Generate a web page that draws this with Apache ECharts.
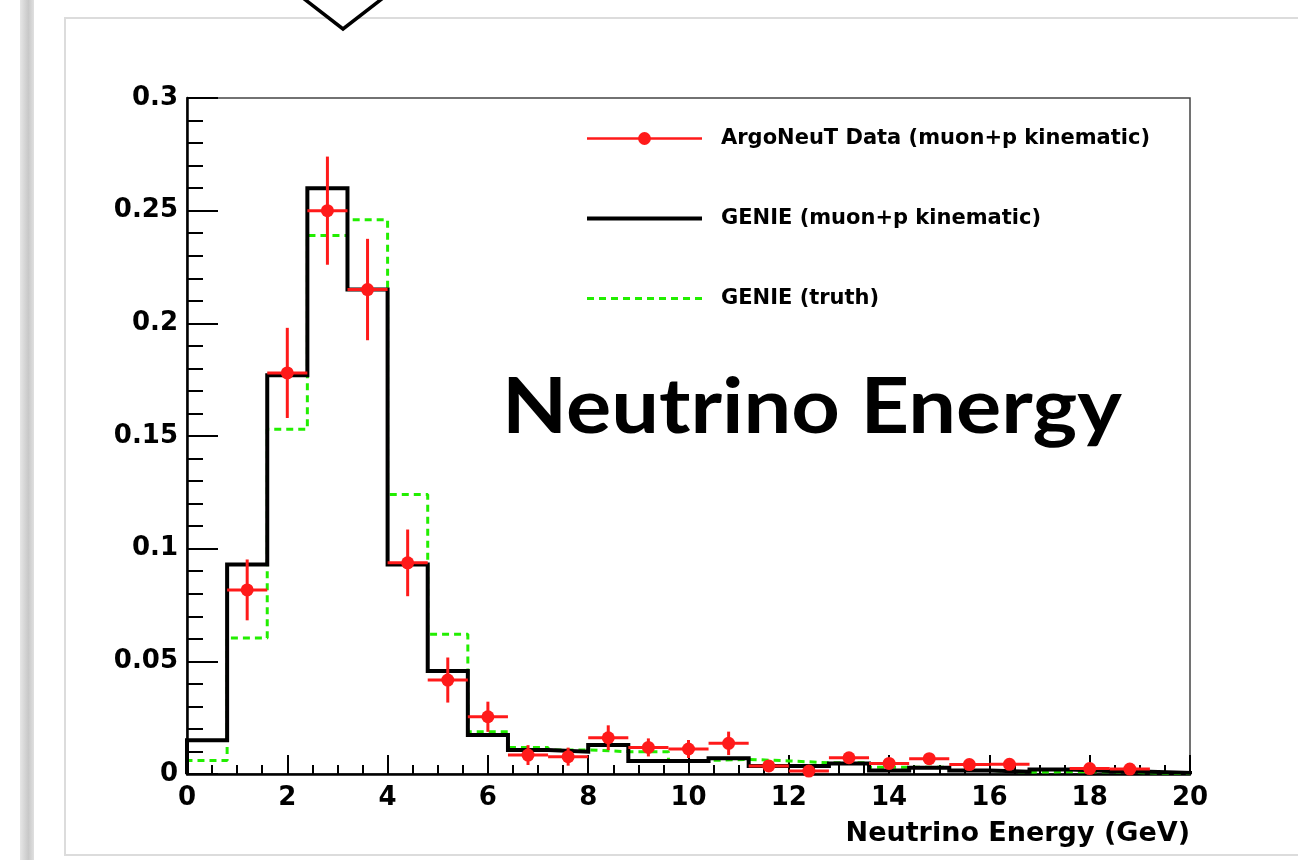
<!DOCTYPE html>
<html>
<head>
<meta charset="utf-8">
<script src="https://cdn.jsdelivr.net/npm/echarts@6/dist/echarts.min.js"></script>
<style>
html,body{margin:0;padding:0;background:#fff;}
#chart{width:1298px;height:860px;}
</style>
</head>
<body>
<div id="chart"></div>
<script>
// ---- data ----
const binCenters = [0.4,1.2,2.0,2.8,3.6,4.4,5.2,6.0,6.8,7.6,8.4,9.2,10.0,10.8,11.6,12.4,13.2,14.0,14.8,15.6,16.4,17.2,18.0,18.8,19.6];
const binHalfWidth = 0.4;
const genieKinematic = [0.015,0.093,0.177,0.260,0.215,0.093,0.0457,0.0173,0.0107,0.0099,0.0129,0.0058,0.0058,0.0070,0.0036,0.0036,0.0047,0.0015,0.0028,0.0015,0.0010,0.0020,0.0013,0.0010,0.0005];
const genieTruth = [0.006,0.0604,0.153,0.239,0.246,0.124,0.062,0.0188,0.0118,0.0107,0.0099,0.0099,0.0060,0.0065,0.0058,0.0050,0.0050,0.0030,0.0030,0.0016,0.0008,0.0010,0.0010,0.0005,0.0002];
const argoData = [null,0.0817,0.178,0.250,0.215,0.0937,0.0417,0.0254,0.0084,0.0077,0.0161,0.0118,0.0111,0.0136,0.0036,0.0013,0.0072,0.0047,0.0068,0.0042,0.0043,null,0.0024,0.0022,null];
const argoErr = [null,0.0135,0.020,0.024,0.0225,0.0148,0.010,0.0067,0.0044,0.004,0.0055,0.004,0.004,0.0052,0.002,0.0015,0.0025,0.002,0.0025,0.002,0.002,null,0.0015,0.0015,null];
const xTickLabels = ['0','2','4','6','8','10','12','14','16','18','20'];
const yTickLabels = ['0','0.05','0.1','0.15','0.2','0.25','0.3'];
const seriesNames = ['ArgoNeuT Data (muon+p kinematic)','GENIE (muon+p kinematic)','GENIE (truth)'];
const xTitle = 'Neutrino Energy (GeV)';
const bigTitle = 'Neutrino Energy';

// ---- build histogram outlines from the bins ----
function stepOutline(values){
  const pts = [[binCenters[0]-binHalfWidth, 0]];
  for (let i=0;i<values.length;i++){
    pts.push([binCenters[i]-binHalfWidth, values[i]]);
    pts.push([binCenters[i]+binHalfWidth, values[i]]);
  }
  pts.push([binCenters[binCenters.length-1]+binHalfWidth, 0]);
  return pts;
}
const pointData = [];
const errData = [];
for (let i=0;i<binCenters.length;i++){
  if (argoData[i] !== null){
    pointData.push([binCenters[i], argoData[i]]);
    errData.push([binCenters[i], argoData[i], argoErr[i]]);
  }
}

const chart = echarts.init(document.getElementById('chart'));
const labelFont = {color:'#000', fontFamily:'DejaVu Sans', fontWeight:'bold', fontSize:26};
chart.setOption({
  animation:false,
  backgroundColor:'#ffffff',
  graphic:[
    {type:'rect', z:-20, shape:{x:20,y:0,width:14,height:860},
     style:{fill:new echarts.graphic.LinearGradient(0,0,1,0,[{offset:0,color:'#e6e6e6'},{offset:0.6,color:'#c8c8c8'},{offset:1,color:'#e0e0e0'}])}},
    {type:'rect', z:-19, shape:{x:65,y:18,width:1300,height:837},
     style:{fill:'#ffffff', stroke:'#dcdcdc', lineWidth:2}},
    {type:'polygon', z:-18, shape:{points:[[303,-2],[343,29],[383,-2]]},
     style:{fill:'#ffffff', stroke:'#000000', lineWidth:3.5}},
    {type:'text', z:50, x:502, y:370, scaleX:1.1, scaleY:1,
     style:{text:bigTitle, fontFamily:'Lato', fontWeight:'bold', fontSize:77, fill:'#000', verticalAlign:'top', align:'left'}}
  ],
  legend:{
    orient:'vertical', left:580, top:123, itemWidth:115, itemHeight:16, itemGap:59,
    selectedMode:false,
    textStyle:{color:'#000', fontFamily:'DejaVu Sans', fontWeight:'bold', fontSize:21, padding:[0,0,0,14]},
    data:[
      {name:seriesNames[0], lineStyle:{color:'#ff1a1a', width:2.5, opacity:1}, itemStyle:{color:'#ff1a1a', opacity:1}},
      {name:seriesNames[1], lineStyle:{color:'#000', width:4, opacity:1}, itemStyle:{opacity:0}},
      {name:seriesNames[2], lineStyle:{color:'#22ee00', width:3, type:[7,5], opacity:1}, itemStyle:{opacity:0}}
    ]
  },
  grid:{left:187, right:108, top:98, bottom:86, show:true, borderColor:'#444', borderWidth:1.5, backgroundColor:'transparent'},
  xAxis:{
    type:'value', min:0, max:20, interval:2,
    axisLine:{show:true, onZero:false, lineStyle:{color:'#000', width:2.5}},
    axisTick:{show:true, inside:true, length:19, lineStyle:{color:'#000', width:2}},
    minorTick:{show:true, splitNumber:4, length:9, lineStyle:{color:'#000', width:2}},
    splitLine:{show:false},
    axisLabel:Object.assign({margin:11, formatter:function(v,i){return xTickLabels[i];}}, labelFont),
    name:xTitle, nameLocation:'end', nameGap:0,
    nameTextStyle:{color:'#000', fontFamily:'DejaVu Sans', fontWeight:'bold', fontSize:27, align:'right', verticalAlign:'top', padding:[46,0,0,0]}
  },
  yAxis:{
    type:'value', min:0, max:0.3, interval:0.05,
    axisLine:{show:true, onZero:false, lineStyle:{color:'#000', width:2.5}},
    axisTick:{show:true, inside:true, length:31, lineStyle:{color:'#000', width:2}},
    minorTick:{show:true, splitNumber:5, length:16, lineStyle:{color:'#000', width:2}},
    splitLine:{show:false},
    axisLabel:Object.assign({margin:9, formatter:function(v,i){return yTickLabels[i];}}, labelFont)
  },
  series:[
    {name:seriesNames[2], type:'line', data:stepOutline(genieTruth), showSymbol:false, symbol:'none', z:2,
     itemStyle:{color:'#22ee00'}, lineStyle:{color:'#22ee00', width:3, type:[7,5]}},
    {name:seriesNames[1], type:'line', data:stepOutline(genieKinematic), showSymbol:false, symbol:'none', z:3,
     itemStyle:{color:'#000'}, lineStyle:{color:'#000', width:4, join:'miter'}},
    {name:'errors', type:'custom', z:4, data:errData,
     renderItem:function(params, api){
       const x=api.value(0), y=api.value(1), e=api.value(2);
       const pl=api.coord([x-binHalfWidth,y]), pr=api.coord([x+binHalfWidth,y]);
       const pt=api.coord([x,y+e]), pb=api.coord([x,y-e]);
       return {type:'group', children:[
         {type:'line', shape:{x1:pl[0],y1:pl[1],x2:pr[0],y2:pr[1]}, style:{stroke:'#ff1a1a', lineWidth:3}},
         {type:'line', shape:{x1:pt[0],y1:pt[1],x2:pb[0],y2:pb[1]}, style:{stroke:'#ff1a1a', lineWidth:3}}
       ]};
     }},
    {name:seriesNames[0], type:'line', data:pointData, z:5, symbol:'circle', symbolSize:13, showSymbol:true,
     itemStyle:{color:'#ff1a1a'}, lineStyle:{color:'#ff1a1a', opacity:0, width:2}}
  ]
});
</script>
</body>
</html>
